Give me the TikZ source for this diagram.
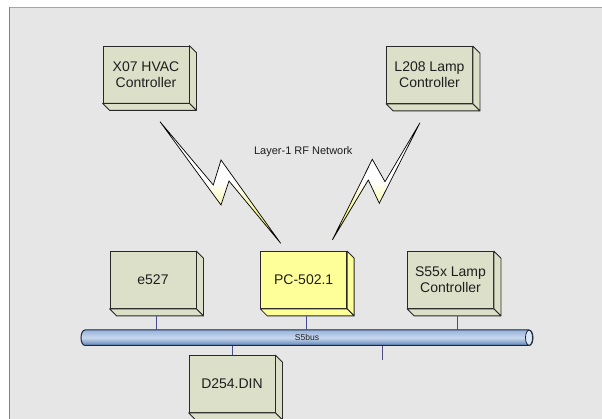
\documentclass[tikz,border=0pt]{standalone}
\usepackage{fontspec}
\setmainfont{Liberation Sans}
\usetikzlibrary{calc}
\definecolor{bgc}{RGB}{230,230,230}
\definecolor{boxc}{RGB}{221,224,200}
\definecolor{pcc}{RGB}{255,255,153}
\definecolor{linec}{RGB}{40,40,40}
\definecolor{linkc}{RGB}{75,75,140}
\definecolor{bustop}{RGB}{150,178,218}
\definecolor{busmid}{RGB}{200,216,238}
\definecolor{busbot}{RGB}{95,130,182}
\definecolor{busedge}{RGB}{30,40,60}
\definecolor{boltyel}{RGB}{235,235,40}
\definecolor{txt}{RGB}{30,30,30}
\tikzset{
  devbox/.style={draw=linec, line width=0.8pt, fill=boxc, minimum width=86pt,
    minimum height=57pt, inner sep=0pt, align=center,
    font=\fontsize{14}{16}\selectfont, text=txt},
  face/.style={draw=linec, line width=0.8pt, line join=round},
  link/.style={draw=linkc, line width=0.9pt},
  bolt/.style={draw=black, line width=0.7pt, line join=miter,
    top color=white, bottom color=boltyel, middle color=white},
}
\newcommand{\extrude}[2]{%
  \path[face, fill=#2] (#1.north east) -- ([shift={(7,7)}]#1.north east)
    -- ([shift={(7,7)}]#1.south east) -- (#1.south east) -- cycle;
  \path[face, fill=#2] (#1.south west) -- ([shift={(7,7)}]#1.south west)
    -- ([shift={(7,7)}]#1.south east) -- (#1.south east) -- cycle;
}
\begin{document}
\begin{tikzpicture}[x=1pt,y=-1pt]
\useasboundingbox (0,0) rectangle (602,419);
% background
\fill[white] (0,0) rectangle (602,419);
\fill[bgc] (9,7) rectangle (602,419);
\draw[black!35, line width=1pt] (9,7.5) -- (602,7.5);
\draw[black!50, line width=1pt] (9.5,7) -- (9.5,419);

% boxes
\node[devbox] (x07) at (146,74.5) {X07 HVAC\\Controller};
\extrude{x07}{boxc}
\node[devbox] (l208) at (429.5,75) {L208 Lamp\\Controller};
\extrude{l208}{boxc}
\node[devbox] (e527) at (153,280) {e527};
\extrude{e527}{boxc}
\node[devbox, fill=pcc] (pc) at (303.7,280) {PC-502.1};
\extrude{pc}{pcc}
\node[devbox] (s55x) at (450.5,280) {S55x Lamp\\Controller};
\extrude{s55x}{boxc}
\node[devbox] (d254) at (232,384) {D254.DIN};
\extrude{d254}{boxc}

% RF label
\node[font=\fontsize{11}{13}\selectfont, text=txt] (rf) at (303.3,151.7) {Layer-1 RF Network};

% lightning bolts
\path[bolt] (160,121.7) -- (213.3,185) -- (221,160) -- (280.7,243.3)
  -- (229,181) -- (221,205) -- cycle;
\path[bolt] (420,122.7) -- (385,181.7) -- (372.3,159.3) -- (332.3,240)
  -- (368.3,180) -- (379.3,203.3) -- cycle;

% bus
\shade[top color=bustop, bottom color=busbot, middle color=busmid]
  (85,330) -- (529,330) arc(-90:90:4 and 7.75) -- (85,345.5) arc(90:270:4 and 7.75) -- cycle;
\draw[busedge, line width=1pt]
  (85,330) -- (529,330) arc(-90:90:4 and 7.75) -- (85,345.5) arc(90:270:4 and 7.75) -- cycle;
\draw[busedge, line width=0.8pt, fill=busmid!60!white] (529,337.75) ellipse (3.5 and 7.5);
\node[minimum width=452pt, minimum height=15.5pt, inner sep=0pt,
  font=\fontsize{8.5}{10}\selectfont, text=txt] (bus) at (307,337.75) {S5bus};

% links to bus
\draw[link] ([shift={(3.7,7)}]e527.south) coordinate (t1) -- (t1 |- bus.north);
\draw[link] ([shift={(3,7)}]pc.south) coordinate (t2) -- (t2 |- bus.north);
\draw[link] ([shift={(6.5,7)}]s55x.south) coordinate (t3) -- (t3 |- bus.north);
\draw[link] (d254.north) -- (d254.north |- bus.south);
\coordinate (freeend) at (382,360);
\draw[link] (freeend |- bus.south) -- (freeend);
\end{tikzpicture}
\end{document}
